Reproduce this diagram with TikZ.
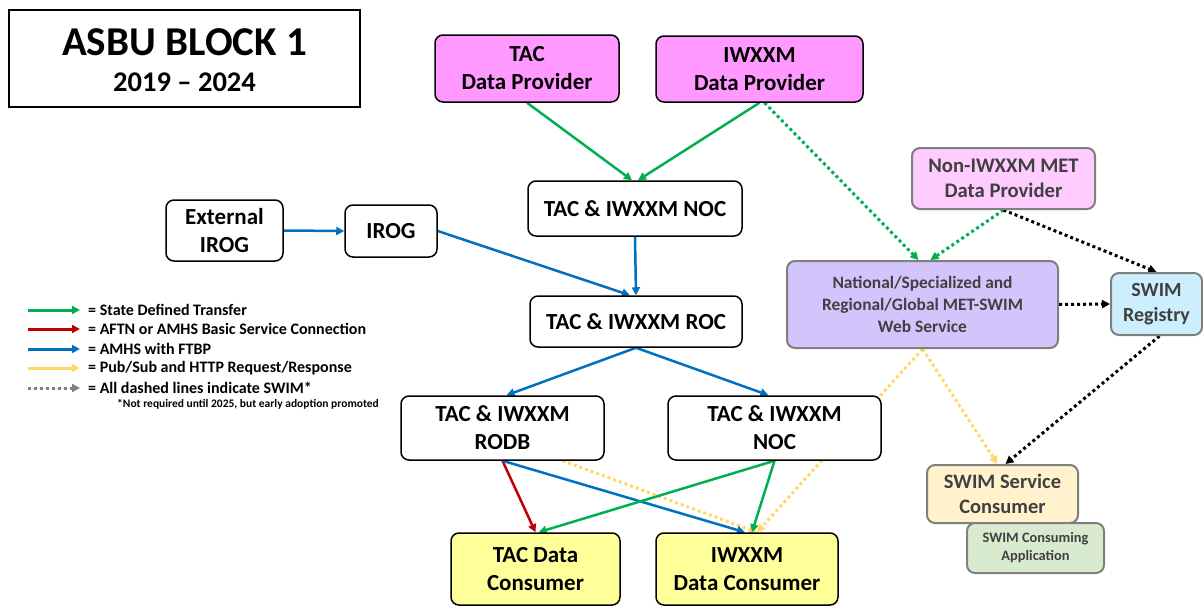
\documentclass[tikz,border=0pt]{standalone}
\usepackage{fontspec}
\setmainfont{Carlito}
\usetikzlibrary{arrows.meta,calc}
\pgfdeclarelayer{background}
\pgfsetlayers{background,main}
\definecolor{cgreen}{HTML}{00B050}
\definecolor{cred}{HTML}{C00000}
\definecolor{cblue}{HTML}{0070C0}
\definecolor{cyellow}{HTML}{FFD966}
\definecolor{cgray}{HTML}{7F7F7F}
\definecolor{ctext}{HTML}{404040}
\definecolor{fpink}{HTML}{FF99FF}
\definecolor{flpink}{HTML}{FFCCFF}
\definecolor{flav}{HTML}{D4C4FC}
\definecolor{fcyan}{HTML}{CDEFFD}
\definecolor{fcream}{HTML}{FFF2CC}
\definecolor{flgreen}{HTML}{D8EBCF}
\definecolor{fyellow}{HTML}{FFFF99}
\tikzset{
  box/.style={draw=black, line width=1.5pt, rounded corners=8pt, align=center,
    inner sep=0pt, font=\fontsize{23}{28}\selectfont\bfseries},
  gbox/.style={draw=cgray, line width=2pt, rounded corners=8pt, align=center,
    inner sep=0pt, text=ctext},
  conn/.style={line width=2.5pt, -{Triangle[length=8pt,width=8pt]}},
  dconn/.style={line width=3pt, dash pattern=on 3pt off 3pt, -{Triangle[length=8pt,width=8pt]}},
  legtext/.style={anchor=west, inner sep=0pt, font=\fontsize{16}{18}\selectfont\bfseries}
}
\begin{document}
\begin{tikzpicture}[x=1pt,y=-1pt]
\useasboundingbox (0,0) rectangle (1203,608);
% title
\node[draw=black, line width=2pt, minimum width=351pt, minimum height=97pt, inner sep=0pt] (title) at (184.5,58.5) {};
\node[font=\fontsize{41}{44}\selectfont\bfseries] (t1) at (184.5,42) {ASBU BLOCK 1};
\node[font=\fontsize{28.5}{32}\selectfont\bfseries] (t2) at (184.5,82) {2019 – 2024};
% main boxes
\node[box, fill=fpink, minimum width=184pt, minimum height=67pt] (tacdp) at (527,68.5) {TAC\\Data Provider};
\node[box, fill=fpink, minimum width=207pt, minimum height=66pt] (iwdp) at (759.5,69) {IWXXM\\Data Provider};
\node[box, fill=white, minimum width=214pt, minimum height=55pt] (noc1) at (635,208.5) {TAC \& IWXXM NOC};
\node[box, fill=white, minimum width=117pt, minimum height=61pt] (extirog) at (224.5,230.5) {External\\IROG};
\node[box, fill=white, minimum width=92pt, minimum height=52pt] (irog) at (391,231) {IROG};
\node[box, fill=white, minimum width=212pt, minimum height=51pt] (roc) at (636,321.5) {TAC \& IWXXM ROC};
\node[box, fill=white, minimum width=203pt, minimum height=64pt] (rodb) at (502.5,428) {TAC \& IWXXM\\RODB};
\node[box, fill=white, minimum width=213pt, minimum height=64pt] (noc2) at (774.5,428) {TAC \& IWXXM\\NOC};
\node[box, fill=fyellow, minimum width=169pt, minimum height=72pt] (tacdc) at (535.5,569) {TAC Data\\Consumer};
\node[box, fill=fyellow, minimum width=182pt, minimum height=72pt] (iwdc) at (747,569) {IWXXM\\Data Consumer};
% gray boxes
\node[gbox, fill=flpink, minimum width=183pt, minimum height=61pt, font=\fontsize{20.7}{25}\selectfont\bfseries] (nonmet) at (1003.5,178.5) {Non-IWXXM MET\\Data Provider};
\node[gbox, fill=flav, minimum width=271pt, minimum height=87pt, font=\fontsize{17.4}{22}\selectfont\bfseries] (natl) at (922.5,304.5) {National/Specialized and\\Regional/Global MET-SWIM\\Web Service};
\node[gbox, fill=fcyan, minimum width=91pt, minimum height=62pt, font=\fontsize{20}{25}\selectfont\bfseries] (reg) at (1156.5,304) {SWIM\\Registry};
\node[gbox, fill=fcream, minimum width=151pt, minimum height=58pt, font=\fontsize{20.5}{25}\selectfont\bfseries] (ssc) at (1002.5,494) {SWIM Service\\Consumer};
\node[gbox, fill=flgreen, minimum width=137pt, minimum height=50pt, font=\fontsize{14.4}{18}\selectfont\bfseries] (sca) at (1035.5,548) {SWIM Consuming\\Application};
% legend
\coordinate (l1a) at (28,310); \coordinate (l1b) at (80,310);
\coordinate (l2a) at (28,329); \coordinate (l2b) at (80,329);
\coordinate (l3a) at (28,349); \coordinate (l3b) at (80,349);
\coordinate (l4a) at (28,368); \coordinate (l4b) at (80,368);
\coordinate (l5a) at (28,388); \coordinate (l5b) at (80,388);
\draw[conn, draw=cgreen, fill=cgreen, line width=3pt] (l1a) -- (l1b);
\draw[conn, draw=cred, fill=cred, line width=3pt] (l2a) -- (l2b);
\draw[conn, draw=cblue, fill=cblue, line width=3pt] (l3a) -- (l3b);
\draw[conn, draw=cyellow, fill=cyellow, line width=3pt] (l4a) -- (l4b);
\draw[dconn, draw=cgray, fill=cgray] (l5a) -- (l5b);
\node[legtext] (lt1) at (88,310) {= State Defined Transfer};
\node[legtext] (lt2) at (88,329) {= AFTN or AMHS Basic Service Connection};
\node[legtext] (lt3) at (88,349) {= AMHS with FTBP};
\node[legtext] (lt4) at (88,368) {= Pub/Sub and HTTP Request/Response};
\node[legtext] (lt5) at (88,388) {= All dashed lines indicate SWIM*};
\node[anchor=west, inner sep=0pt, font=\fontsize{11.5}{13}\selectfont\bfseries] (fn) at (117,404) {*Not required until 2025, but early adoption promoted};
% connectors
\begin{pgfonlayer}{background}
\draw[conn, cgreen] (tacdp.south) -- ([xshift=-3pt]noc1.north);
\draw[conn, cgreen] (iwdp.south) -- ([xshift=3pt]noc1.north);
\draw[dconn, cgreen] ([xshift=5pt]iwdp.south) -- ([xshift=-4pt]natl.north);
\draw[dconn, cgreen] (nonmet.south) -- ([xshift=8pt]natl.north);
\draw[dconn, black] (nonmet.south) -- (reg.north);
\draw[dconn, black] (natl.east) -- (reg.west);
\draw[dconn, black] ([xshift=3pt]reg.south) -- ([xshift=3pt]ssc.north);
\draw[dconn, cyellow] (natl.south) -- ([xshift=-5pt]ssc.north);
\draw[dconn, cyellow] (natl.south) -- ([xshift=10pt]iwdc.north);
\draw[dconn, cyellow] ([xshift=60pt]rodb.south) -- ([xshift=10pt]iwdc.north);
\draw[conn, cblue] (extirog.east) -- (irog.west);
\draw[conn, cblue] (irog.east) -- ([xshift=-6pt]roc.north);
\draw[conn, cblue] (noc1.south) -- (roc.north);
\draw[conn, cblue] (roc.south) -- ([xshift=4pt]rodb.north);
\draw[conn, cblue] (roc.south) -- ([xshift=-6pt]noc2.north);
\draw[conn, cred] (rodb.south) -- (tacdc.north);
\draw[conn, cblue] (rodb.south) -- ([xshift=-2pt]iwdc.north);
\draw[conn, cgreen] (noc2.south) -- ([xshift=3pt]tacdc.north);
\draw[conn, cgreen] (noc2.south) -- ([xshift=5pt]iwdc.north);
\end{pgfonlayer}
\end{tikzpicture}
\end{document}
